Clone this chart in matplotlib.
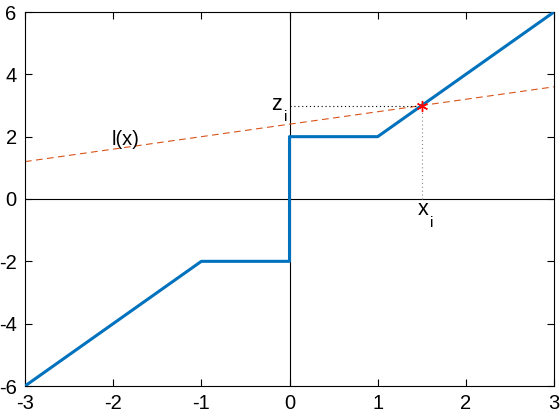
import matplotlib
matplotlib.use("Agg")
import matplotlib.pyplot as plt
import numpy as np

plt.rcParams['font.family'] = ['Liberation Sans', 'DejaVu Sans']
plt.rcParams['axes.unicode_minus'] = False

# piecewise function
fx = [-3, -1, 0, 0, 1, 3]
fy = [-6, -2, -2, 2, 2, 6]
# linear l(x)
lx = [-3, 3]
ly = [1.2, 3.6]
# point
xi = 1.5
zi = 3.0

xticks = [-3, -2, -1, 0, 1, 2, 3]
yticks = [-6, -4, -2, 0, 2, 4, 6]

fig = plt.figure(figsize=(5.6, 4.2), dpi=100)
ax = fig.add_axes([25/560, 34/420, 529/560, 374/420])

ax.axhline(0, color='black', lw=0.8, zorder=1)
ax.axvline(0, color='black', lw=0.8, zorder=1)
ax.plot(lx, ly, color=(0.85, 0.325, 0.098), lw=0.8, ls=(0, (6, 4)), zorder=2)
ax.plot([0, xi], [zi, zi], color='black', lw=0.8, ls=(0, (1, 2.5)), zorder=2)
ax.plot([xi, xi], [0, zi], color='#888888', lw=0.8, ls=(0, (1, 2.5)), zorder=2)
ax.plot(fx, fy, color=(0, 0.447, 0.741), lw=2.2, zorder=3)
ax.plot([xi], [zi], marker=(6, 2, 0), color='red', ms=8, mew=1.0, zorder=4)

ax.text(-0.21, 2.86, 'z', fontsize=15.5, ha='left', va='baseline')
ax.text(-0.06, 2.50, 'i', fontsize=11, ha='left', va='baseline')
ax.text(1.45, -0.51, 'x', fontsize=15.5, ha='left', va='baseline')
ax.text(1.59, -0.89, 'i', fontsize=11, ha='left', va='baseline')
ax.text(-2.02, 1.9, 'l(x)', fontsize=14.5, ha='left', va='center')

ax.set_xlim(-3, 3)
ax.set_ylim(-6, 6)
ax.set_xticks(xticks)
ax.set_yticks(yticks)
ax.tick_params(direction='in', top=True, right=True, labelsize=14.5, length=5, width=0.8, pad=6)
for s in ax.spines.values():
    s.set_linewidth(0.8)

fig.savefig('out.png', dpi=100)
